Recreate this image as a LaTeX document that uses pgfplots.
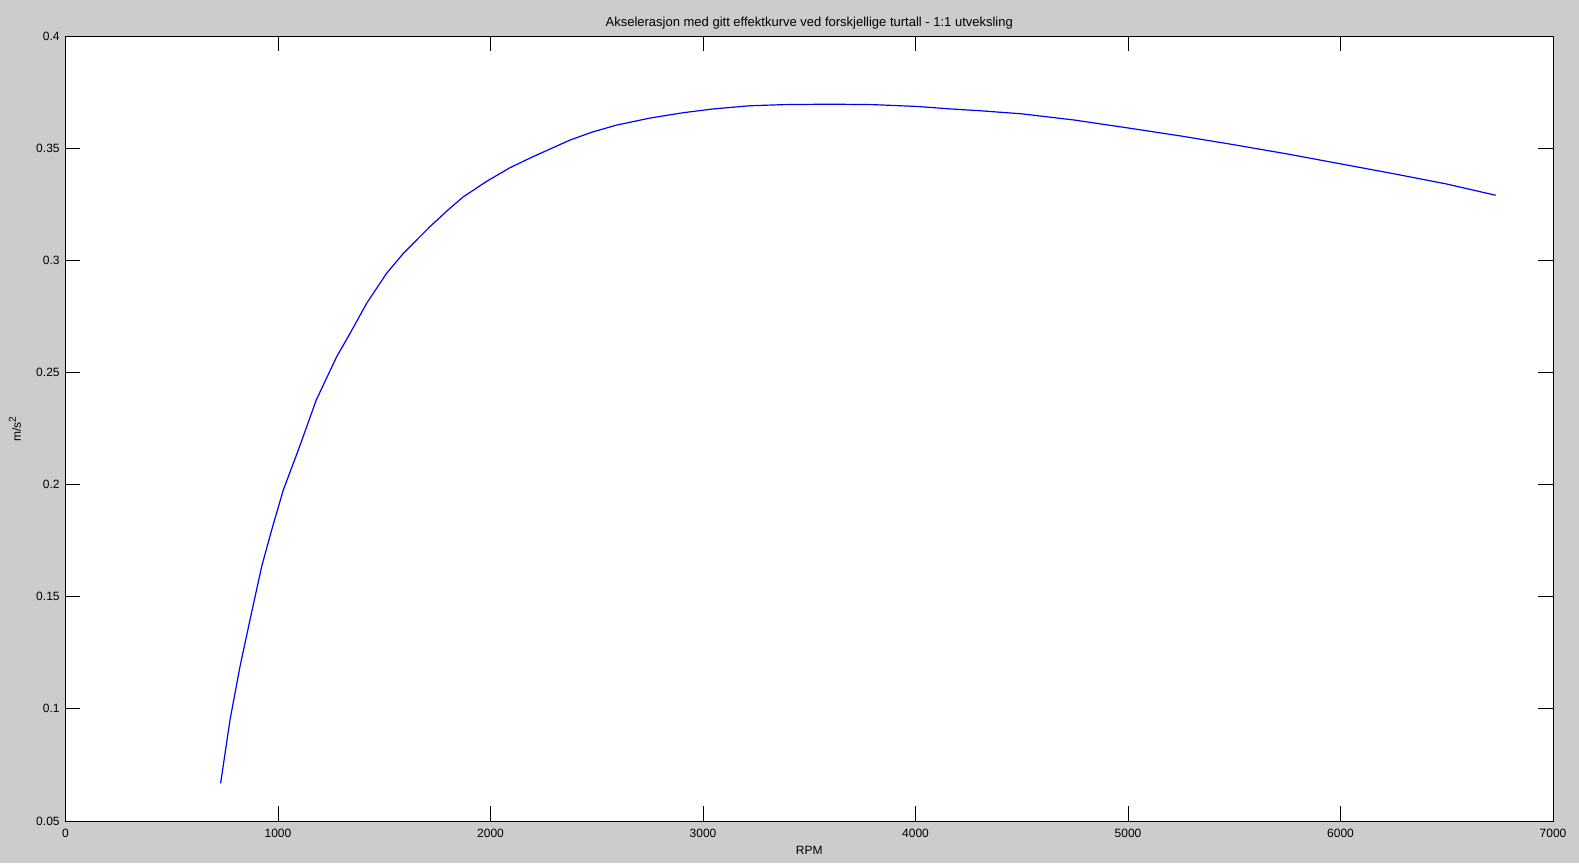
\documentclass[border=0pt]{standalone}
\usepackage{fontspec}
\setmainfont{Liberation Sans}
\usepackage{pgfplots}
\pgfplotsset{compat=1.18}
\definecolor{matgray}{RGB}{204,204,204}
\begin{document}
\begin{tikzpicture}[font=\fontsize{6}{7}\selectfont]
\fill[matgray] (0,0) rectangle (789.5pt,431.5pt);
\useasboundingbox (0,0) rectangle (789.5pt,431.5pt);
\begin{axis}[
  at={(32.75pt,21pt)}, anchor=south west,
  scale only axis,
  width=743.75pt, height=392.5pt,
  xmin=0, xmax=7000, ymin=0.05, ymax=0.4,
  axis background/.style={fill=white},
  axis line style={black, line width=0.5pt},
  xtick={0,1000,2000,3000,4000,5000,6000,7000},
  xticklabels={0,1000,2000,3000,4000,5000,6000,7000},
  ytick={0.05,0.1,0.15,0.2,0.25,0.3,0.35,0.4},
  yticklabels={0.05,0.1,0.15,0.2,0.25,0.3,0.35,0.4},
  scaled ticks=false,
  /pgf/number format/assume math mode=true,
  tick align=inside, tick pos=both,
  major tick length=7.3pt,
  tick style={black, line width=0.5pt},
  xticklabel style={font=\fontsize{6}{7}\selectfont, anchor=base, inner sep=0pt, yshift=-8pt},
  yticklabel style={font=\fontsize{6}{7}\selectfont, anchor=east, inner sep=0pt, xshift=-2.75pt},
  every axis title shift=0pt,
  title={Akselerasjon med gitt effektkurve ved forskjellige turtall - 1:1 utveksling},
  title style={at={(axis description cs:0.5,1.0127)}, anchor=base, inner sep=0pt, font=\fontsize{6.5}{7.5}\selectfont},
  xlabel={RPM},
  xlabel style={at={(axis description cs:0.5,-0.0433)}, anchor=base, inner sep=0pt, font=\fontsize{6}{7}\selectfont},
  ylabel={m/s\textsuperscript{2}},
  ylabel style={at={(axis description cs:-0.034,0.5)}, anchor=center, inner sep=0pt, font=\fontsize{6}{7}\selectfont},
]
\addplot[blue, line width=0.6pt, mark=none] coordinates {
(730,0.0668) (774,0.0950) (821,0.1188) (868,0.1396) (923,0.1634) (970,0.1797)
(1025,0.1976) (1100,0.2165) (1180,0.2377) (1276,0.2570) (1339,0.2674) (1417,0.2808)
(1511,0.2942) (1590,0.3031) (1715,0.3150) (1809,0.3232) (1872,0.3283) (1982,0.3352)
(2092,0.3413) (2200,0.3462) (2374,0.3536) (2480,0.3572) (2594,0.3603) (2750,0.3634)
(2907,0.3658) (3050,0.3675) (3221,0.3689) (3378,0.3694) (3600,0.3696) (3801,0.3694)
(4006,0.3686) (4162,0.3675) (4300,0.3667) (4500,0.3653) (4750,0.3625) (5000,0.3590)
(5250,0.3554) (5500,0.3515) (5750,0.3474) (6000,0.3430) (6250,0.3386) (6500,0.3340)
(6730,0.3290)
};
\end{axis}
\end{tikzpicture}
\end{document}
